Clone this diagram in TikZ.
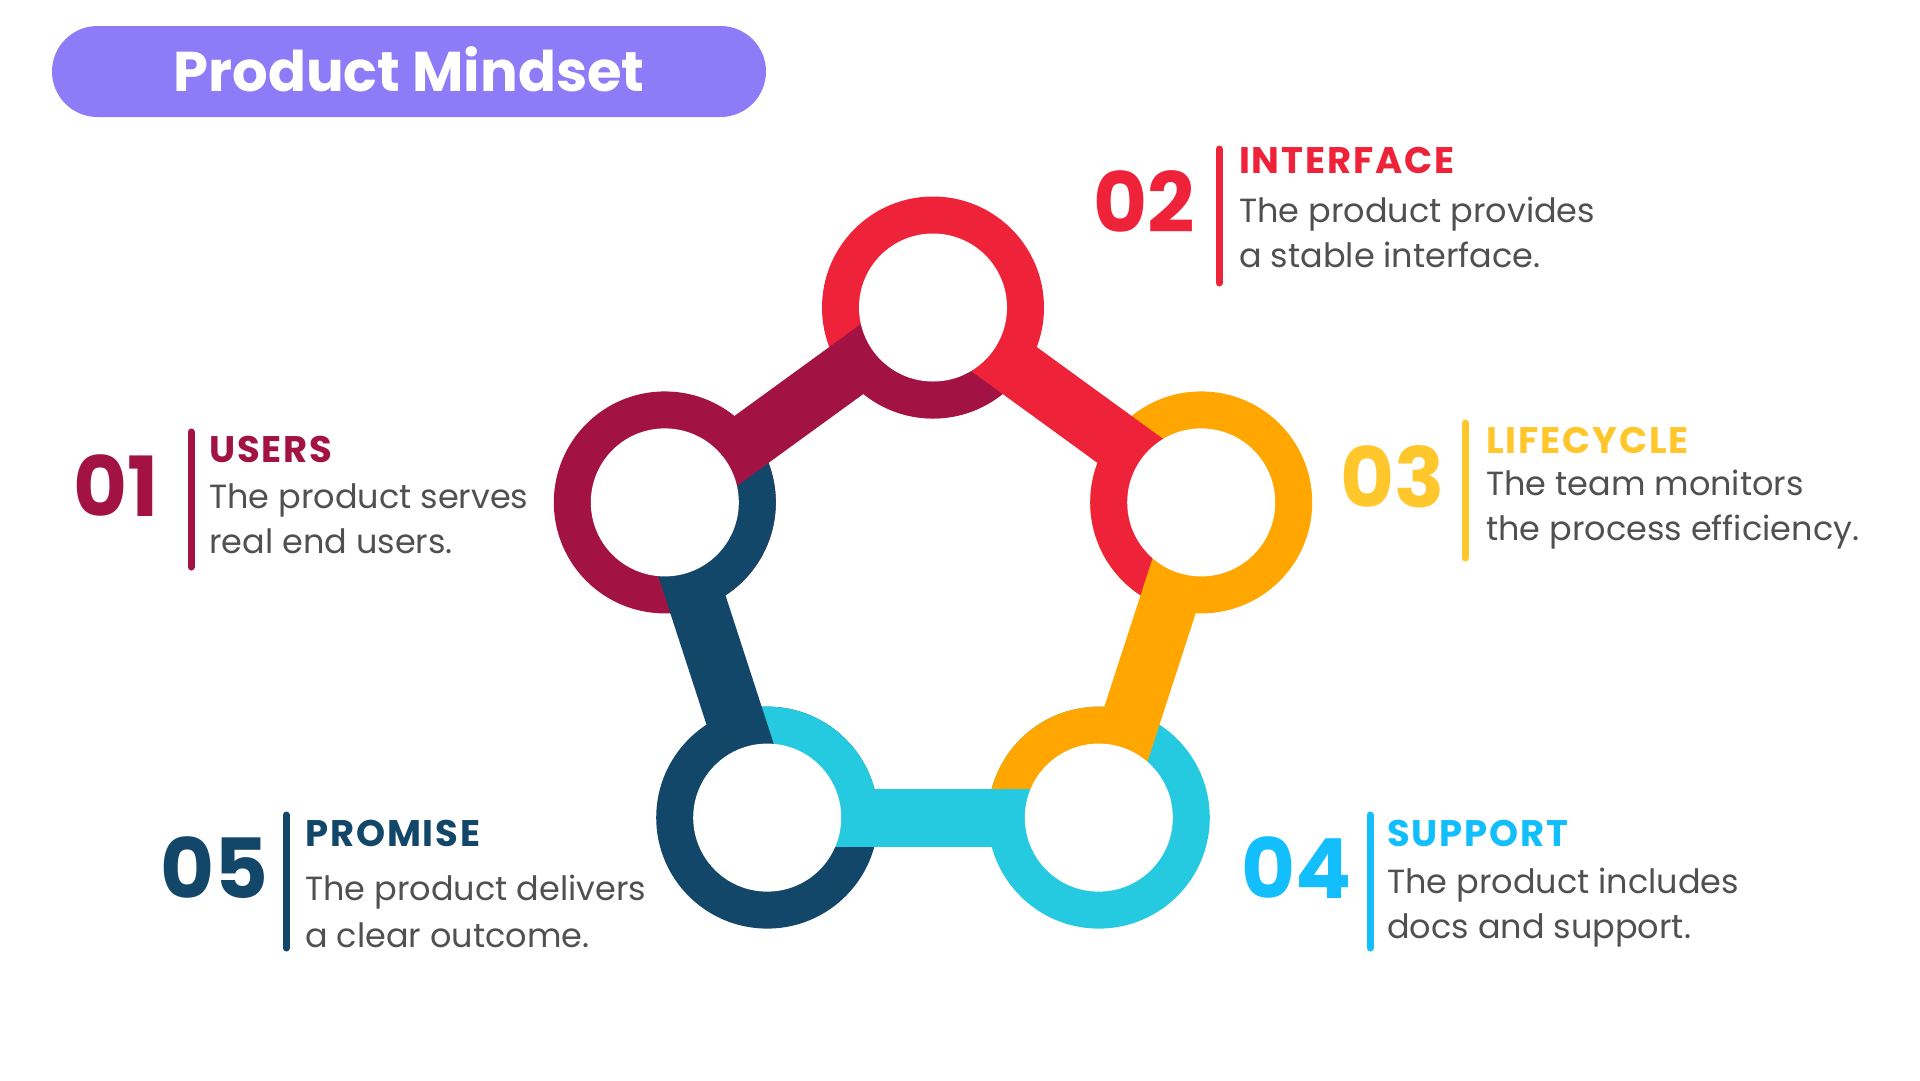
\documentclass[tikz,border=0pt]{standalone}
\usepackage{fontspec}
\setmainfont{Poppins}
\usetikzlibrary{positioning}

\definecolor{usersc}{RGB}{162,19,68}
\definecolor{interc}{RGB}{238,34,57}
\definecolor{lifec}{RGB}{255,166,0}
\definecolor{lifetxt}{RGB}{255,199,44}
\definecolor{suppc}{RGB}{38,202,224}
\definecolor{supptxt}{RGB}{18,190,252}
\definecolor{promc}{RGB}{18,71,105}
\definecolor{bodyc}{RGB}{80,80,80}
\definecolor{titlec}{RGB}{142,123,248}

\tikzset{
  ringbase/.style={fill=#1},
  linkbar/.style={draw=#1, line width=58pt},
  sepline/.style={draw=#1, line width=7pt, line cap=round},
  numtext/.style={anchor=base west, inner sep=0pt, text=#1, font=\fontsize{83}{90}\selectfont\bfseries},
  headtext/.style={anchor=base west, inner sep=0pt, text=#1, font=\fontsize{37}{40}\selectfont\bfseries\addfontfeature{LetterSpace=5}},
  bodytext/.style={anchor=base west, inner sep=0pt, text=bodyc, font=\fontsize{33.5}{40}\selectfont},
}

\begin{document}
\begin{tikzpicture}[x=1pt,y=1pt,yscale=-1,xscale=1]
\useasboundingbox (0,0) rectangle (1920,1080);

%Shape: Rounded Rectangle
\fill [titlec, rounded corners=45.5pt] (52,26) rectangle (766,117);
% Text Node
\node (title) [anchor=base, inner sep=0pt, text=white, font=\fontsize{56}{64}\selectfont\bfseries] at (409,91) {Product Mindset};

% centres of the rings
\coordinate (c01) at (664.8,502.4);
\coordinate (c02) at (933,307.5);
\coordinate (c03) at (1201.2,502.4);
\coordinate (c04) at (1098.8,817.6);
\coordinate (c05) at (767.2,817.6);

%Shape: Circle
\fill [ringbase=usersc] (c01) circle [radius=111];
\fill [ringbase=interc] (c02) circle [radius=111];
\fill [ringbase=lifec] (c03) circle [radius=111];
\fill [ringbase=suppc] (c04) circle [radius=111];
\fill [ringbase=promc] (c05) circle [radius=111];

%Shape: Sector
\fill [promc] (c01) -- ++(-36:111) arc [start angle=-36, end angle=72, radius=111] -- cycle;
\fill [usersc] (c02) -- ++(36:111) arc [start angle=36, end angle=144, radius=111] -- cycle;
\fill [interc] (c03) -- ++(108:111) arc [start angle=108, end angle=216, radius=111] -- cycle;
\fill [lifec] (c04) -- ++(180:111) arc [start angle=180, end angle=288, radius=111] -- cycle;
\fill [suppc] (c05) -- ++(252:111) arc [start angle=252, end angle=360, radius=111] -- cycle;

%Straight Lines
\draw [linkbar=usersc] (c01) -- (c02);
\draw [linkbar=interc] (c02) -- (c03);
\draw [linkbar=lifec] (c03) -- (c04);
\draw [linkbar=suppc] (c04) -- (c05);
\draw [linkbar=promc] (c05) -- (c01);

%Shape: Circle
\fill [white] (c01) circle [radius=74];
\fill [white] (c02) circle [radius=74];
\fill [white] (c03) circle [radius=74];
\fill [white] (c04) circle [radius=74];
\fill [white] (c05) circle [radius=74];

%Straight Lines
\draw [sepline=usersc] (191,432) -- (191,567);
\draw [sepline=interc] (1219,149) -- (1219,283);
\draw [sepline=lifetxt] (1465,423) -- (1465,558);
\draw [sepline=supptxt] (1370,815) -- (1370,948);
\draw [sepline=promc] (286,815) -- (286,948);

% Text Node
\node (n01) [numtext=usersc] at (73,516) {01};
\node (h01) [headtext=usersc] at (209,462) {USERS};
\node (a01) [bodytext] at (209,508) {The product serves};
\node (b01) [bodytext] at (209,553) {real end users.};
% Text Node
\node (n02) [numtext=interc] at (1093,232) {02};
\node (h02) [headtext=interc] at (1239,173) {INTERFACE};
\node (a02) [bodytext] at (1239,222) {The product provides};
\node (b02) [bodytext] at (1239,267) {a stable interface.};
% Text Node
\node (n03) [numtext=lifetxt] at (1340,507) {03};
\node (h03) [headtext=lifetxt] at (1486,453) {LIFECYCLE};
\node (a03) [bodytext] at (1486,495) {The team monitors};
\node (b03) [bodytext] at (1486,540) {the process efficiency.};
% Text Node
\node (n04) [numtext=supptxt] at (1241,898) {04};
\node (h04) [headtext=supptxt] at (1387,846) {SUPPORT};
\node (a04) [bodytext] at (1387,893) {The product includes};
\node (b04) [bodytext] at (1387,938) {docs and support.};
% Text Node
\node (n05) [numtext=promc] at (160,898) {05};
\node (h05) [headtext=promc] at (305,846) {PROMISE};
\node (a05) [bodytext] at (305,900) {The product delivers};
\node (b05) [bodytext] at (305,947) {a clear outcome.};

\end{tikzpicture}
\end{document}
